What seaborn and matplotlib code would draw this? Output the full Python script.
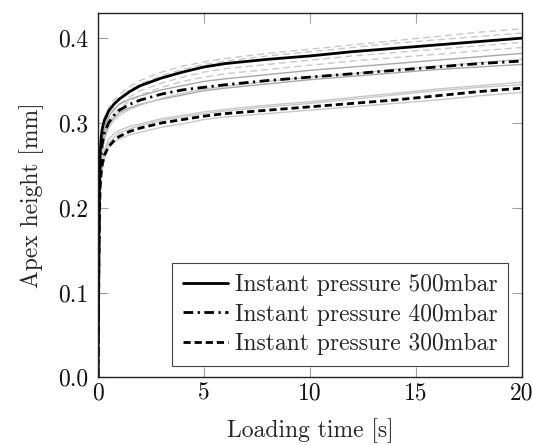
import numpy as np
import pandas as pd
import matplotlib
matplotlib.use("Agg")
import matplotlib.pyplot as plt
import seaborn as sns

# ---- data ----
t = [0, 0.03, 0.06, 0.1, 0.15, 0.2, 0.3, 0.5, 0.75, 1, 1.5, 2, 3, 4, 5, 6, 8, 10, 12, 14, 16, 18, 20]

p500 = [0, 0.12, 0.22, 0.265, 0.283, 0.293, 0.303, 0.314, 0.322, 0.328, 0.337, 0.344, 0.353, 0.360, 0.366, 0.370, 0.375, 0.379, 0.384, 0.388, 0.392, 0.396, 0.400]
p400 = [0, 0.10, 0.20, 0.245, 0.264, 0.275, 0.288, 0.300, 0.309, 0.315, 0.322, 0.327, 0.334, 0.339, 0.342, 0.345, 0.350, 0.354, 0.358, 0.362, 0.366, 0.370, 0.373]
p300 = [0, 0.09, 0.18, 0.225, 0.242, 0.251, 0.262, 0.272, 0.279, 0.284, 0.290, 0.294, 0.300, 0.304, 0.308, 0.311, 0.315, 0.319, 0.323, 0.327, 0.332, 0.337, 0.341]

# individual measurements (grey)
m500_a = [0, 0.10, 0.21, 0.255, 0.278, 0.290, 0.305, 0.318, 0.327, 0.333, 0.343, 0.350, 0.360, 0.367, 0.372, 0.376, 0.382, 0.387, 0.392, 0.397, 0.402, 0.407, 0.411]
m500_b = [0, 0.09, 0.20, 0.248, 0.270, 0.283, 0.298, 0.312, 0.322, 0.329, 0.339, 0.346, 0.356, 0.363, 0.369, 0.373, 0.379, 0.384, 0.389, 0.394, 0.398, 0.402, 0.406]
m500_c = [0, 0.08, 0.18, 0.235, 0.258, 0.271, 0.287, 0.305, 0.315, 0.322, 0.331, 0.338, 0.347, 0.354, 0.360, 0.364, 0.369, 0.374, 0.379, 0.383, 0.387, 0.391, 0.395]
m500_d = [0, 0.08, 0.17, 0.228, 0.252, 0.265, 0.282, 0.300, 0.310, 0.317, 0.326, 0.333, 0.342, 0.349, 0.354, 0.358, 0.363, 0.368, 0.373, 0.377, 0.381, 0.385, 0.389]

m400_a = [0, 0.09, 0.19, 0.240, 0.262, 0.276, 0.292, 0.308, 0.316, 0.322, 0.328, 0.332, 0.339, 0.344, 0.349, 0.352, 0.357, 0.362, 0.366, 0.370, 0.374, 0.378, 0.382]
m400_b = [0, 0.09, 0.19, 0.235, 0.255, 0.268, 0.282, 0.298, 0.306, 0.312, 0.318, 0.322, 0.328, 0.333, 0.338, 0.341, 0.346, 0.351, 0.355, 0.359, 0.363, 0.366, 0.369]
m400_c = [0, 0.08, 0.18, 0.230, 0.252, 0.265, 0.280, 0.294, 0.303, 0.309, 0.316, 0.321, 0.329, 0.335, 0.340, 0.343, 0.349, 0.354, 0.358, 0.363, 0.367, 0.371, 0.375]

m300_a = [0, 0.08, 0.17, 0.222, 0.242, 0.254, 0.267, 0.281, 0.287, 0.291, 0.296, 0.299, 0.305, 0.309, 0.313, 0.316, 0.321, 0.325, 0.330, 0.335, 0.340, 0.344, 0.348]
m300_b = [0, 0.07, 0.16, 0.212, 0.232, 0.243, 0.257, 0.271, 0.277, 0.281, 0.286, 0.289, 0.295, 0.299, 0.304, 0.307, 0.311, 0.315, 0.319, 0.323, 0.327, 0.332, 0.336]
m300_c = [0, 0.08, 0.17, 0.218, 0.238, 0.249, 0.262, 0.276, 0.283, 0.288, 0.293, 0.297, 0.303, 0.307, 0.311, 0.314, 0.319, 0.323, 0.328, 0.333, 0.338, 0.342, 0.345]

labels = ["Instant pressure 500mbar", "Instant pressure 400mbar", "Instant pressure 300mbar"]
xticks = [0, 5, 10, 15, 20]
yticks = [0.0, 0.1, 0.2, 0.3, 0.4]

# ---- style ----
sns.set_style("ticks")
plt.rcParams["font.family"] = ["cmr10", "DejaVu Serif"]
plt.rcParams["axes.formatter.use_mathtext"] = True
plt.rcParams["mathtext.fontset"] = "cm"

fig = plt.figure(figsize=(5.33, 4.45), dpi=100)
ax = fig.add_axes([98 / 533, 1 - 377.3 / 445, (521.7 - 98) / 533, (377.3 - 12.7) / 445])

light = "#c8c8c8"
mid = "#a8a8a8"

for ys in [m500_a, m500_b, m500_c, m500_d]:
    sns.lineplot(x=t, y=ys, ax=ax, color=light, lw=1.0, linestyle=(0, (5, 3)))
for ys, c in [(m400_a, mid), (m400_b, mid), (m400_c, light)]:
    sns.lineplot(x=t, y=ys, ax=ax, color=c, lw=1.0)
for ys in [m300_a, m300_b, m300_c]:
    sns.lineplot(x=t, y=ys, ax=ax, color=light, lw=1.0)

sns.lineplot(x=t, y=p500, ax=ax, color="black", lw=2.0, label=labels[0])
sns.lineplot(x=t, y=p400, ax=ax, color="black", lw=2.0, linestyle=(0, (3.5, 1.6, 0.8, 1.6)), label=labels[1])
sns.lineplot(x=t, y=p300, ax=ax, color="black", lw=2.0, linestyle=(0, (2.6, 1.4)), label=labels[2])

ax.set_xlim(0, 20)
ax.set_ylim(0, 0.43)
ax.set_xticks(xticks)
ax.set_xticklabels([str(v) for v in xticks])
ax.set_yticks(yticks)
ax.set_yticklabels([f"{v:.1f}" for v in yticks])

for s in ax.spines.values():
    s.set_visible(True)
    s.set_color("#222222")
    s.set_linewidth(1.0)

ax.tick_params(axis="both", direction="in", length=7.2, width=0.8, color="#a0a0a0",
               top=True, right=True, labelsize=17, labelcolor="#111111")
ax.tick_params(axis="x", pad=3.5)
ax.tick_params(axis="y", pad=7)

ax.set_xlabel("Loading time [s]", fontsize=17, labelpad=10)
ax.set_ylabel("Apex height [mm]", fontsize=17, labelpad=10)

leg = ax.legend(loc="lower right", bbox_to_anchor=(0.968, 0.031), borderaxespad=0,
                fontsize=17, frameon=True, fancybox=False, framealpha=1,
                handlelength=1.9, handletextpad=0.3, labelspacing=0.32,
                borderpad=0.45)
leg.get_frame().set_edgecolor("#444444")
leg.get_frame().set_linewidth(0.8)

fig.savefig("out.png", dpi=100)
